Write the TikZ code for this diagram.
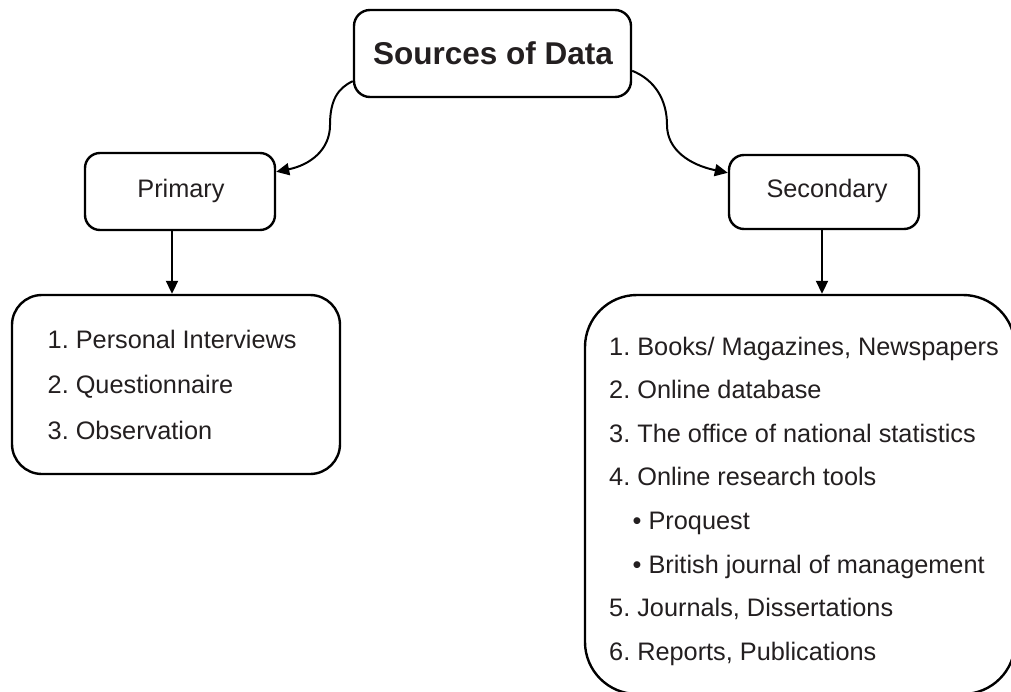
\documentclass[tikz,border=0pt]{standalone}
\usepackage{fontspec}
\setmainfont{Liberation Sans}
\usetikzlibrary{arrows.meta}
\definecolor{txt}{HTML}{231F20}
\frenchspacing
\tikzset{
  box/.style={draw=black, line width=2.4pt, fill=white, inner sep=0pt},
  arr/.style={draw=black, line width=2pt, -{Triangle[length=13pt,width=12pt]}},
  lbl/.style={text=txt, inner sep=0pt, font=\fontsize{25.3}{30}\selectfont},
  item/.style={lbl, anchor=base west},
}
\begin{document}
\begin{tikzpicture}[x=1pt,y=-1pt]
\useasboundingbox (0,0) rectangle (1011,692);
\clip (0,0) rectangle (1011,692);
\fill[white] (0,0) rectangle (1011,692);
% boxes
\node[box, rounded corners=16pt, minimum width=277pt, minimum height=87pt] (src) at (492.5,53.5) {};
\node[lbl, font=\fontsize{31.5}{36}\bfseries] (srct) at (493,53) {Sources of Data};
\node[box, rounded corners=15pt, minimum width=190pt, minimum height=77pt] (prim) at (180,191.5) {};
\node[lbl] (primt) at (181,191) {Primary};
\node[box, rounded corners=15pt, minimum width=190pt, minimum height=74pt] (sec) at (824,192) {};
\node[lbl] (sect) at (827,191) {Secondary};
\node[box, rounded corners=30pt, minimum width=328pt, minimum height=179pt] (plist) at (176,384.5) {};
\node[box, rounded corners=52pt, minimum width=430pt, minimum height=399pt] (slist) at (800,494.5) {};
% primary list
\node[item] (p1) at (47.5,348) {1. Personal Interviews};
\node[item] (p2) at (47.5,393) {2. Questionnaire};
\node[item] (p3) at (47.5,439) {3. Observation};
% secondary list
\node[item] (s1) at (609,355) {1. Books/ Magazines, Newspapers};
\node[item] (s2) at (609,398.6) {2. Online database};
\node[item] (s3) at (609,442.2) {3. The office of national statistics};
\node[item] (s4) at (609,485.8) {4. Online research tools};
\node[item] (s5) at (632.5,529.4) {• Proquest};
\node[item] (s6) at (632.5,573) {• British journal of management};
\node[item] (s7) at (609,616.6) {5. Journals, Dissertations};
\node[item] (s8) at (609,660.2) {6. Reports, Publications};
% connectors
\draw[arr] ([yshift=17pt]src.south west) .. controls (338,88) and (330,100) .. (330,125)
  .. controls (330,150) and (310,165) .. ([yshift=-20pt]prim.north east);
\draw[arr] ([yshift=-62pt]src.north east) .. controls (655,80) and (667,100) .. (667,125)
  .. controls (667,150) and (690,165) .. ([yshift=-19pt]sec.north west);
\draw[arr] ([xshift=-8pt]prim.south) -- ([xshift=-8pt]prim.south |- plist.north);
\draw[arr] ([xshift=-2pt]sec.south) -- ([xshift=-2pt]sec.south |- slist.north);
\end{tikzpicture}
\end{document}
